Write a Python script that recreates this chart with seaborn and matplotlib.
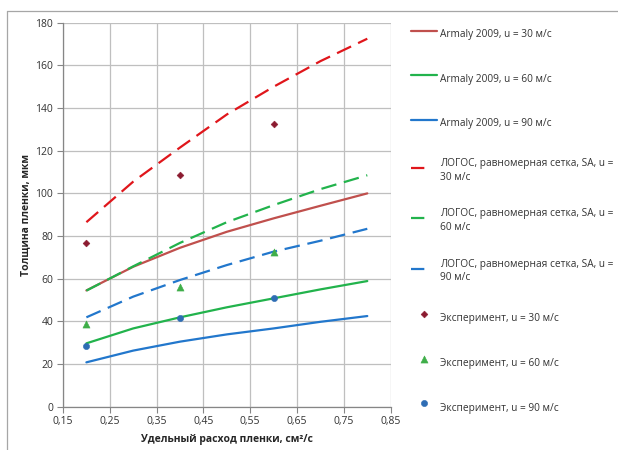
import numpy as np
import pandas as pd
import matplotlib
matplotlib.use("Agg")
import matplotlib.pyplot as plt
import seaborn as sns
from matplotlib.lines import Line2D
from matplotlib.ticker import FuncFormatter, MultipleLocator

# values
q_line = [0.2, 0.3, 0.4, 0.5, 0.6, 0.7, 0.8]
armaly_30 = [54.5, 65.6, 74.5, 82.0, 88.3, 94.2, 100.0]
armaly_60 = [29.7, 36.7, 41.9, 46.6, 50.8, 55.0, 58.9]
armaly_90 = [20.8, 26.3, 30.5, 33.9, 36.7, 39.8, 42.5]
logos_30 = [86.5, 105.5, 121.5, 137.0, 150.0, 162.0, 172.5]
logos_60 = [54.4, 65.8, 76.8, 86.5, 94.5, 102.0, 108.5]
logos_90 = [41.9, 51.6, 59.4, 66.4, 72.7, 77.8, 83.4]

q_exp = [0.2, 0.4, 0.6]
exp_30 = [76.6, 108.5, 132.7]
exp_60 = [38.6, 56.3, 72.7]
exp_90 = [28.6, 41.4, 51.1]

x_ticks = [0.15, 0.25, 0.35, 0.45, 0.55, 0.65, 0.75, 0.85]

labels_armaly = ["Armaly 2009, u = 30 м/с", "Armaly 2009, u = 60 м/с", "Armaly 2009, u = 90 м/с"]
labels_logos = ["ЛОГОС, равномерная сетка, SA, u =\n30 м/с",
                "ЛОГОС, равномерная сетка, SA, u =\n60 м/с",
                "ЛОГОС, равномерная сетка, SA, u =\n90 м/с"]
labels_exp = ["Эксперимент, u = 30 м/с", "Эксперимент, u = 60 м/с", "Эксперимент, u = 90 м/с"]

sns.set_style("white")
plt.rcParams['font.family'] = ['Open Sans', 'DejaVu Sans']

fig = plt.figure(figsize=(6.18, 4.5), dpi=100)
ax = fig.add_axes([0.1019, 0.0962, 0.5303, 0.8533])

# solid model curves
for y, col, lab in zip([armaly_30, armaly_60, armaly_90],
                       ['#C0504D', '#22B34C', '#2277CC'], labels_armaly):
    sns.lineplot(x=q_line, y=y, color=col, lw=1.6, label=lab, ax=ax, zorder=3)

# dashed LOGOS curves
for y, col, lab in zip([logos_30, logos_60, logos_90],
                       ['#E0161B', '#22B34C', '#2277CC'], labels_logos):
    sns.lineplot(x=q_line, y=y, color=col, lw=1.6, linestyle=(0, (7, 3.5)),
                 label=lab, ax=ax, zorder=4)

# experiment points
for y, col, mk, sz, lab in zip([exp_30, exp_60, exp_90],
                               ['#8B1A2F', '#3FAE49', '#2E6DB4'],
                               ['D', '^', 'o'], [12, 26, 20], labels_exp):
    sns.scatterplot(x=q_exp, y=y, color=col, marker=mk, s=sz, edgecolor=col,
                    linewidth=0.4, label=lab, ax=ax, zorder=5)

ax.set_xlim(0.15, 0.85)
ax.set_ylim(0, 180)
ax.set_xticks(x_ticks)
ax.yaxis.set_major_locator(MultipleLocator(20))
ax.xaxis.set_major_formatter(FuncFormatter(lambda v, _: f"{v:.2f}".replace('.', ',')))
ax.grid(True, color='#BFBFBF', lw=0.9)
ax.set_axisbelow(True)
for side in ['top', 'right']:
    ax.spines[side].set_visible(False)
for side in ['left', 'bottom']:
    ax.spines[side].set_color('#868686')
    ax.spines[side].set_linewidth(0.9)
ax.tick_params(axis='both', length=4, color='#868686', labelsize=7.5, labelcolor='#333333', pad=3,
               bottom=True, left=True)

ax.set_xlabel("Удельный расход пленки, см²/с", fontsize=7.5, fontweight='bold', labelpad=5)
ax.set_ylabel("Толщина пленки, мкм", fontsize=7.5, fontweight='bold', labelpad=3)

handles, labels = ax.get_legend_handles_labels()
ax.get_legend().remove()
leg = fig.legend(handles, labels, loc='upper left', bbox_to_anchor=(0.665, 0.946),
                 frameon=False, fontsize=7.3, handlelength=2.6, handleheight=2.55,
                 labelspacing=2.5, handletextpad=0.25, borderaxespad=0, borderpad=0,
                 scatterpoints=1, labelcolor='#333333')
for t in leg.get_texts():
    t.set_linespacing(1.35)
# dashed entries show a single short dash, like the original
for ln in leg.get_lines()[3:6]:
    ln.set_linestyle((0, (6, 20)))

# outer chart frame (top and left edges visible in the reference)
fig.add_artist(Line2D([7 / 618, 1], [1 - 11 / 450, 1 - 11 / 450], color='#A6A6A6', lw=0.9))
fig.add_artist(Line2D([7 / 618, 7 / 618], [0, 1 - 11 / 450], color='#A6A6A6', lw=0.9))

fig.savefig("out.png", dpi=100)
